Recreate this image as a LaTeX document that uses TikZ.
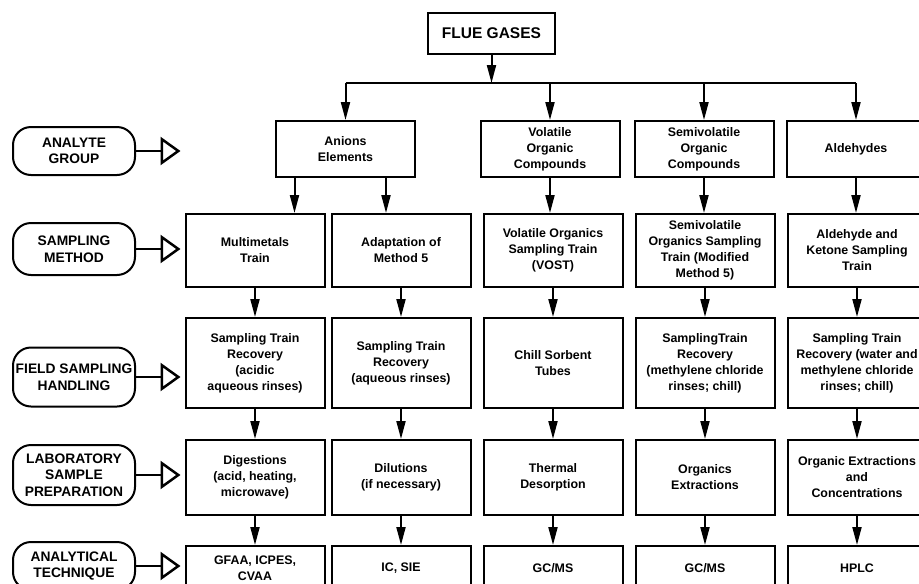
\documentclass[tikz,border=0pt]{standalone}
\usepackage{fontspec}
\setmainfont{Liberation Sans}
\usetikzlibrary{arrows.meta}

\begin{document}
\begin{tikzpicture}[x=1pt,y=-1pt,line width=2pt,
  font=\bfseries\fontsize{12.4}{16}\selectfont,
  box/.style={draw,rectangle,align=center,inner sep=2pt,minimum width=139pt},
  row1/.style={box,minimum height=56pt},
  row2/.style={box,minimum height=73pt},
  row3/.style={box,minimum height=90pt},
  row4/.style={box,minimum height=75pt},
  row5/.style={box,minimum height=44pt},
  group/.style={draw,rounded corners=18pt,align=center,minimum width=122pt,inner sep=1pt,
    font=\bfseries\fontsize{13.8}{16.5}\selectfont},
  arr/.style={-{Triangle[length=18pt,width=9pt]}},
  hollow/.style={-{Triangle[open,length=20pt,width=28pt]},line width=2.5pt,shorten >=4pt}]
\useasboundingbox (0,0) rectangle (919,584);
\clip (0,0) rectangle (919,584);
\node[box,minimum width=127pt,minimum height=41pt,font=\bfseries\fontsize{15.5}{17}\selectfont] (flue) at (491.5,33.5) {FLUE GASES};
\coordinate (bus) at (491.5,83);
\node[row1] (anion) at (345.5,149) {Anions\\Elements};
\node[row1] (voc) at (550,149) {Volatile\\Organic\\Compounds};
\node[row1] (svoc) at (704,149) {Semivolatile\\Organic\\Compounds};
\node[row1] (ald) at (856,149) {Aldehydes};
\node[row2] (mm) at (255,250.5) {Multimetals\\Train};
\node[row2] (m5) at (401,250.5) {Adaptation of\\Method 5};
\node[row2] (vost) at (553,250.5) {Volatile Organics\\Sampling Train\\(VOST)};
\node[row2] (svost) at (705,250.5) {Semivolatile\\Organics Sampling\\Train (Modified\\Method 5)};
\node[row2] (akst) at (857,250.5) {Aldehyde and\\Ketone Sampling\\Train};
\node[row3] (rec1) at (255,363) {Sampling Train\\Recovery\\(acidic\\aqueous rinses)};
\node[row3] (rec2) at (401,363) {Sampling Train\\Recovery\\(aqueous rinses)};
\node[row3] (chill) at (553,363) {Chill Sorbent\\Tubes};
\node[row3] (rec4) at (705,363) {SamplingTrain\\Recovery\\(methylene chloride\\rinses; chill)};
\node[row3] (rec5) at (857,363) {Sampling Train\\Recovery (water and\\methylene chloride\\rinses; chill)};
\node[row4] (dig) at (255,477.5) {Digestions\\(acid, heating,\\microwave)};
\node[row4] (dil) at (401,477.5) {Dilutions\\(if necessary)};
\node[row4] (therm) at (553,477.5) {Thermal\\Desorption};
\node[row4] (oext) at (705,477.5) {Organics\\Extractions};
\node[row4] (oconc) at (857,477.5) {Organic Extractions\\and\\Concentrations};
\node[row5] (gfaa) at (255,568) {GFAA, ICPES,\\CVAA};
\node[row5] (ic) at (401,568) {IC, SIE};
\node[row5] (gcms1) at (553,568) {GC/MS};
\node[row5] (gcms2) at (705,568) {GC/MS};
\node[row5] (hplc) at (857,568) {HPLC};
\node[group,minimum height=48pt] (g1) at (74,151) {ANALYTE\\GROUP};
\node[group,minimum height=52pt] (g2) at (74,249) {SAMPLING\\METHOD};
\node[group,minimum height=59pt] (g3) at (74,377) {FIELD SAMPLING\\HANDLING};
\node[group,minimum height=60pt] (g4) at (74,475) {LABORATORY\\SAMPLE\\PREPARATION};
\node[group,minimum height=48pt] (g5) at (74,566) {ANALYTICAL\\TECHNIQUE};
\draw[arr] (flue) -- (flue |- bus);
\draw (anion |- bus) -- (ald |- bus);
\draw[arr] (anion |- bus) -- (anion);
\draw[arr] (voc |- bus) -- (voc);
\draw[arr] (svoc |- bus) -- (svoc);
\draw[arr] (ald |- bus) -- (ald);
\draw[arr] ([xshift=-51pt]anion.south) -- ([xshift=-51pt]anion.south |- mm.north);
\draw[arr] ([xshift=40.5pt]anion.south) -- ([xshift=40.5pt]anion.south |- m5.north);
\draw[arr] (voc) -- (voc |- vost.north);
\draw[arr] (svoc) -- (svoc |- svost.north);
\draw[arr] (ald) -- (ald |- akst.north);
\draw[arr] (mm) -- (rec1);
\draw[arr] (m5) -- (rec2);
\draw[arr] (vost) -- (chill);
\draw[arr] (svost) -- (rec4);
\draw[arr] (akst) -- (rec5);
\draw[arr] (rec1) -- (dig);
\draw[arr] (rec2) -- (dil);
\draw[arr] (chill) -- (therm);
\draw[arr] (rec4) -- (oext);
\draw[arr] (rec5) -- (oconc);
\draw[arr] (dig) -- (gfaa);
\draw[arr] (dil) -- (ic);
\draw[arr] (therm) -- (gcms1);
\draw[arr] (oext) -- (gcms2);
\draw[arr] (oconc) -- (hplc);
\draw[hollow] (g1.east) -- (g1.east -| mm.west);
\draw[hollow] (g2.east) -- (g2.east -| mm.west);
\draw[hollow] (g3.east) -- (g3.east -| mm.west);
\draw[hollow] (g4.east) -- (g4.east -| mm.west);
\draw[hollow] (g5.east) -- (g5.east -| mm.west);
\end{tikzpicture}
\end{document}
